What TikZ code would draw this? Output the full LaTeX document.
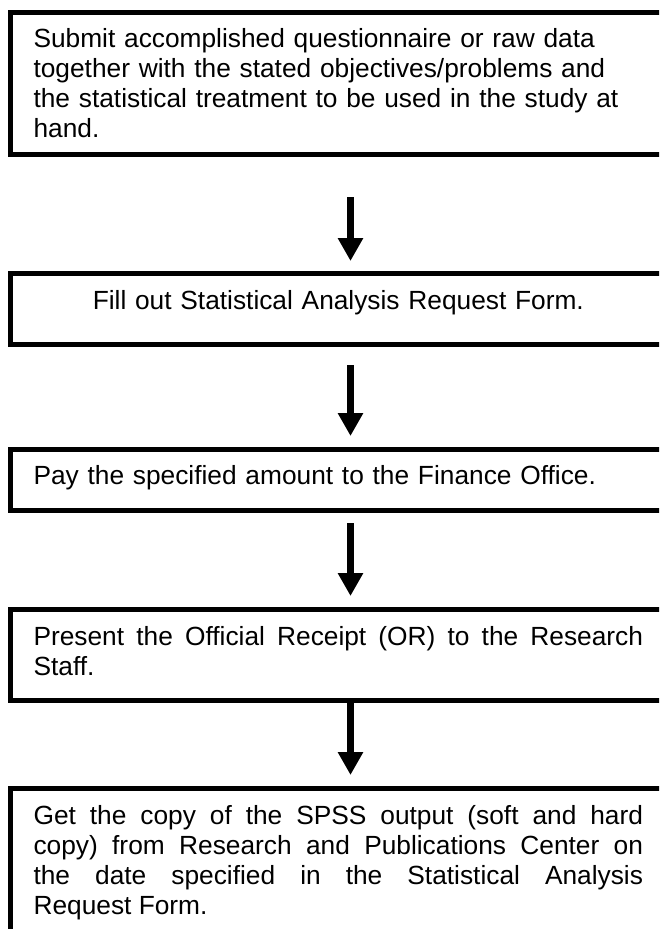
\documentclass[tikz,border=0pt]{standalone}
\usepackage{fontspec}
\setmainfont{Liberation Sans}
\usetikzlibrary{arrows.meta}
\pretolerance=10000
\tolerance=10000
\hbadness=10000
\hyphenpenalty=10000
\tikzset{
  stepbox/.style={draw=black, line width=5pt, fill=white, outer sep=0pt,
    anchor=north west, text width=609.5pt, inner xsep=22.7pt, inner ysep=0pt,
    minimum width=655pt, text height=35.5pt,
    font=\fontsize{26.3pt}{30pt}\selectfont},
  flowarrow/.style={draw=black, line width=7pt,
    -{Triangle[width=24pt,length=23pt]}}
}
\begin{document}
\begin{tikzpicture}[x=1pt,y=-1pt]
\useasboundingbox (0,0) rectangle (659,929);
\fill[white] (0,0) rectangle (659,929);
\clip (0,0) rectangle (659,929);
\coordinate (ax) at (350.5,0);
\node[stepbox, align=left, text depth=107pt] (b1) at (10.8,12)
  {Submit accomplished questionnaire or raw data\\together with the stated objectives/problems and\\the statistical treatment to be used in the study at\\hand.};
\node[stepbox, align=center, text depth=35.5pt] (b2) at (10.8,273.5)
  {Fill out Statistical Analysis Request Form.};
\node[stepbox, align=left, text depth=25.5pt] (b3) at (10.8,449)
  {Pay the specified amount to the Finance Office.};
\node[stepbox, align=justify, text depth=55pt] (b4) at (10.8,609.5)
  {Present the Official Receipt (OR) to the Research\linebreak Staff.};
\node[stepbox, align=justify, text depth=164.5pt] (b5) at (10.8,788.5)
  {Get the copy of the SPSS output (soft and hard\linebreak copy) from Research and Publications Center on\linebreak the date specified in the Statistical Analysis\linebreak Request Form.};
\draw[flowarrow, shorten <=42.5pt, shorten >=12.5pt] (b1.south -| ax) -- (b2.north -| ax);
\draw[flowarrow, shorten <=20.5pt, shorten >=13pt] (b2.south -| ax) -- (b3.north -| ax);
\draw[flowarrow, shorten <=13pt, shorten >=13.5pt] (b3.south -| ax) -- (b4.north -| ax);
\draw[flowarrow, shorten >=13.5pt] (b4.south -| ax) -- (b5.north -| ax);
\end{tikzpicture}
\end{document}
